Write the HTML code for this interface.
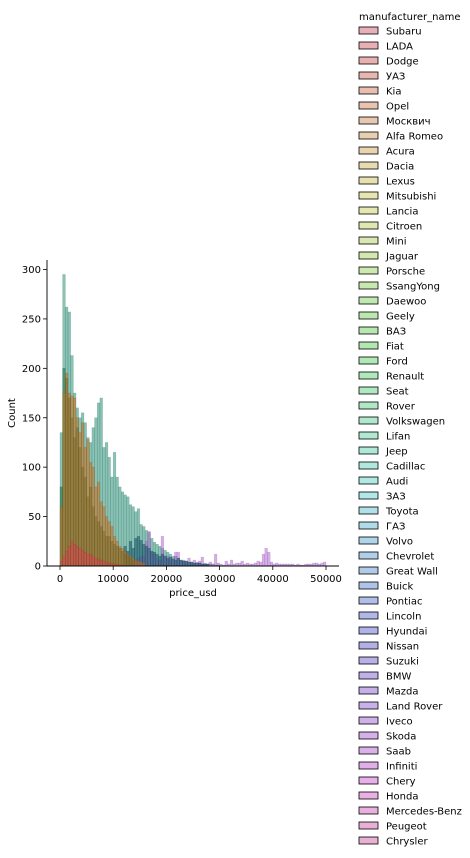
<!DOCTYPE html>
<html><head><meta charset="utf-8"><style>
body{margin:0;background:#fff;}
svg{display:block;font-family:"DejaVu Sans","Liberation Sans",sans-serif;}
</style></head><body>
<svg id="chart" width="470" height="858" viewBox="0 0 470 858">
<g id="bars"></g>
<g id="axes"></g>
<g id="legend"></g>
</svg>
<script>
const binWidth = 500;
const tealCounts = [135,295,262,257,213,175,160,150,155,145,130,125,140,150,165,170,120,125,110,90,115,90,80,75,72,70,62,60,55,58,42,40,36,34,28,24,22,20,18,16,14,12,10,10,8,6,5,5,4,4,3,3,3,2,2,2,2,2,1,1];
const orangeCounts = [60,175,195,175,172,170,150,135,145,120,128,105,100,80,85,65,60,50,45,40,30,25,20,18,15,12,10,8,6,5,4,3];
const greenCounts = [80,200,190,170,150,130,140,120,100,90,70,80,60,50,45,40,35,30,30,25,22,20,18,15,12,10,8,6];
const redCounts = [5,10,15,20,25,22,20,18,16,14,12,12,10,8,7,6,5,4,3,3,2,2,1,1];
const navyStart = 24;
const navyCounts = [20,15,25,18,28,30,26,22,20,18,15,14,12,10,12,10,8,9,7,6,8,6,5,5,4,4,3,3,3,2,2,2];
const purpleStart = 28;
const purpleCounts = [6,8,10,10,25,35,14,12,8,6,30,10,10,6,8,14,14,5,6,4,8,3,6,4,5,9,3,2,4,2,12,3,2,1,5,2,6,2,3,3,5,2,3,2,2,3,5,4,12,18,14,4,2,3,2,2,2,2,2,2,1,2,1,1,2,2,2,3,3,2,3,4];
const xTicks = [0,10000,20000,30000,40000,50000];
const yTicks = [0,50,100,150,200,250,300];
const legendNames = ["Subaru","LADA","Dodge","УАЗ","Kia","Opel","Москвич","Alfa Romeo","Acura","Dacia","Lexus","Mitsubishi","Lancia","Citroen","Mini","Jaguar","Porsche","SsangYong","Daewoo","Geely","ВАЗ","Fiat","Ford","Renault","Seat","Rover","Volkswagen","Lifan","Jeep","Cadillac","Audi","ЗАЗ","Toyota","ГАЗ","Volvo","Chevrolet","Great Wall","Buick","Pontiac","Lincoln","Hyundai","Nissan","Suzuki","BMW","Mazda","Land Rover","Iveco","Skoda","Saab","Infiniti","Chery","Honda","Mercedes-Benz","Peugeot","Chrysler"];

const NS="http://www.w3.org/2000/svg";
const x0=60, x1=326, y0=566, yScale=(566-269.5)/300;
const X=v=>x0+(v/50000)*(x1-x0);
const Y=c=>y0-c*yScale;
function mk(tag,attrs,parent){const e=document.createElementNS(NS,tag);for(const k in attrs)e.setAttribute(k,attrs[k]);parent.appendChild(e);return e;}
const bars=document.getElementById('bars');
function drawSeries(arr,start,fill,stroke,name,op){
  arr.forEach((c,i)=>{
    const b=(start+i)*binWidth;
    const r=mk('rect',{x:X(b),y:Y(c),width:X(b+binWidth)-X(b),height:y0-Y(c),fill:fill,'fill-opacity':op,stroke:stroke,'stroke-opacity':0.3,'stroke-width':0.5},bars);
    
    
  });
}
drawSeries(tealCounts,0,'#2a9078','#1a6050','vaz',0.55);
drawSeries(purpleCounts,purpleStart,'#b060d0','#803aa0','bmw',0.5);
drawSeries(navyCounts,navyStart,'#1a5a70','#103040','audi',0.6);
drawSeries(greenCounts,0,'#1a6a40','#0d4a20','green',0.55);
drawSeries(orangeCounts,0,'#c8701a','#7a4010','opel',0.55);
drawSeries(redCounts,0,'#d84050','#a02030','lada',0.5);

const axes=document.getElementById('axes');
mk('line',{x1:47,y1:260,x2:47,y2:566.5,stroke:'#000','stroke-width':0.9},axes);
mk('line',{x1:47,y1:566,x2:339,y2:566,stroke:'#000','stroke-width':0.9},axes);
xTicks.forEach(v=>{
  mk('line',{x1:X(v),y1:566,x2:X(v),y2:570,stroke:'#000','stroke-width':0.8},axes);
  const t=mk('text',{x:X(v),y:582,'font-size':10,'text-anchor':'middle',fill:'#000'},axes);t.textContent=v;
  
  
});
yTicks.forEach(v=>{
  mk('line',{x1:43,y1:Y(v),x2:47,y2:Y(v),stroke:'#000','stroke-width':0.8},axes);
  const t=mk('text',{x:41,y:Y(v)+3.5,'font-size':10,'text-anchor':'end',fill:'#000'},axes);t.textContent=v;
  
  
});
let xt=mk('text',{x:193,y:596,'font-size':10,'text-anchor':'middle'},axes);xt.textContent='price_usd';


let yt=mk('text',{x:15,y:413,'font-size':10,'text-anchor':'middle',transform:'rotate(-90 15 413)'},axes);yt.textContent='Count';



const lg=document.getElementById('legend');
let lt=mk('text',{x:359,y:20,'font-size':10},lg);lt.textContent='manufacturer_name';


legendNames.forEach((n,i)=>{
  const y=31+i*15;
  const h=(350+i*340/55)%360;
  const g=mk('g',{},lg);
  
  
  mk('rect',{x:359,y:y-4,width:19,height:7,fill:`hsl(${h},55%,80%)`,stroke:'#000','stroke-width':0.8},g);
  const t=mk('text',{x:386,y:y+3.5,'font-size':10},g);t.textContent=n;
});
</script>
</body></html>
